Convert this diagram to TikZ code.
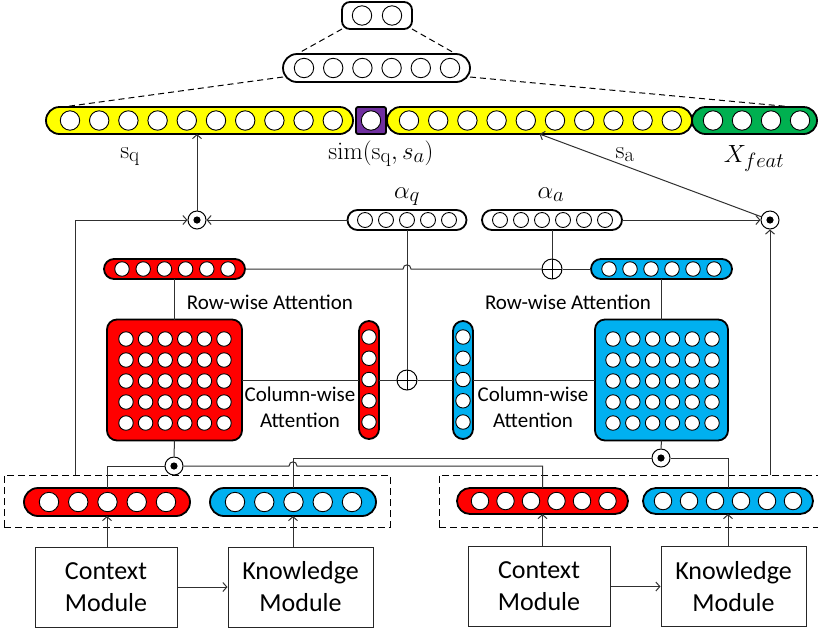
\documentclass[tikz,border=0pt]{standalone}
\usepackage[no-math]{fontspec}
\setmainfont{Carlito}
\usetikzlibrary{arrows.meta,calc}
\definecolor{cred}{HTML}{FF0000}
\definecolor{cblue}{HTML}{00B0F0}
\definecolor{cyel}{HTML}{FFFF00}
\definecolor{cgreen}{HTML}{00B050}
\definecolor{cpurp}{HTML}{7030A0}
\definecolor{cline}{HTML}{303030}
% name, x0, y, dx, n, diameter
\newcommand\circrow[6]{\foreach \i in {1,...,#5}{\node[cell,minimum size=#6pt] (#1-\i) at ({#2+(\i-1)*(#4)},#3) {};}}
% name, x, y0, dy, n, diameter
\newcommand\circcol[6]{\foreach \i in {1,...,#5}{\node[cell,minimum size=#6pt] (#1-\i) at (#2,{#3+(\i-1)*(#4)}) {};}}
% name, x0, y0, dx, dy, nx, ny, diameter
\newcommand\circgrid[8]{\foreach \i in {1,...,#6}{\foreach \j in {1,...,#7}{\node[cell,minimum size=#8pt] (#1-\i-\j) at ({#2+(\i-1)*(#4)},{#3+(\j-1)*(#5)}) {};}}}
\tikzset{
 vecbox/.style={rectangle, draw=black, line width=1.8pt, inner sep=0pt, outer sep=0pt},
 cell/.style={circle, draw=black, fill=white, line width=0.9pt, inner sep=0pt},
 conn/.style={draw=cline, line width=1pt},
 arr/.style={conn, -{Straight Barb[length=4pt,width=9pt]}},
 dashln/.style={draw=black, line width=1pt, dash pattern=on 6pt off 4pt},
 dashbox/.style={rectangle, draw=black, line width=1pt, dash pattern=on 7pt off 4pt, inner sep=0pt},
 modbox/.style={rectangle, draw=black!85, line width=1pt, inner sep=0pt, align=center, font=\fontsize{26}{32}\selectfont},
 odotn/.style={circle, draw=black, fill=white, line width=1pt, minimum size=18pt, inner sep=0pt,
   path picture={\fill[black] (path picture bounding box.center) circle (3.6pt);}},
 oplusn/.style={circle, draw=black, line width=1pt, minimum size=20pt, inner sep=0pt,
   path picture={\draw[line width=1pt] (path picture bounding box.north) -- (path picture bounding box.south)
     (path picture bounding box.west) -- (path picture bounding box.east);}},
 attlbl/.style={font=\fontsize{21}{26}\selectfont, align=center, inner sep=0pt},
 mathlbl/.style={font=\fontsize{29}{32}\selectfont, inner sep=0pt, anchor=base},
 alphalbl/.style={font=\fontsize{32}{34}\selectfont, inner sep=0pt, anchor=base},
}
\begin{document}
\begin{tikzpicture}[x=1pt,y=-1pt]
\useasboundingbox (0,0) rectangle (818,633);
% ---- top output vectors
\node[vecbox, rounded corners=8pt, minimum width=70pt, minimum height=27pt] (top) at (377,15.5) {};
\circrow{top}{362}{15.5}{30}{2}{19.4}
\node[vecbox, rounded corners=14pt, minimum width=187pt, minimum height=28pt] (hid) at (376.5,68) {};
\circrow{hid}{304}{68}{29.2}{6}{19.4}
% ---- concatenated vector
\node[vecbox, fill=cyel, rounded corners=13.5pt, minimum width=307pt, minimum height=27pt] (sq) at (199.5,120.5) {};
\circrow{sq}{70}{120.5}{29.2}{10}{19.4}
\node[vecbox, fill=cpurp, rounded corners=2pt, minimum width=30pt, minimum height=27pt] (sim) at (371,120.5) {};
\circrow{simc}{371}{120.5}{0}{1}{19.4}
\node[vecbox, fill=cyel, rounded corners=13.5pt, minimum width=305pt, minimum height=27pt] (sa) at (539.5,120.5) {};
\circrow{sa}{409}{120.5}{29.2}{10}{19.4}
\node[vecbox, fill=cgreen, rounded corners=13.5pt, minimum width=125pt, minimum height=27pt] (xf) at (754.5,120.5) {};
\circrow{xf}{713}{120.5}{29}{4}{19.4}
% labels
\node[mathlbl] (lsq) at (130,158) {$\mathrm{s}_\mathrm{q}$};
\node[mathlbl] (lsim) at (381,159) {$\mathrm{sim}(\mathrm{s}_\mathrm{q},s_a)$};
\node[mathlbl] (lsa) at (625,158) {$\mathrm{s}_\mathrm{a}$};
\node[mathlbl] (lxf) at (754,162) {$X_{feat}$};
\node[alphalbl] (laq) at (407,198) {$\alpha_q$};
\node[alphalbl] (laa) at (551,198) {$\alpha_a$};
% ---- attention vectors
\node[vecbox, rounded corners=10pt, minimum width=119pt, minimum height=20pt] (aq) at (407,220) {};
\circrow{aq}{365}{220}{21}{5}{15}
\node[vecbox, rounded corners=10pt, minimum width=140pt, minimum height=20pt] (aa) at (552,220) {};
\circrow{aa}{500}{220}{21}{6}{15}
\node[odotn] (oL) at (197,220) {};
\node[odotn] (oR) at (770,220) {};
% ---- row-wise
\node[vecbox, fill=cred, rounded corners=10pt, minimum width=141pt, minimum height=20pt] (rr) at (174.5,269) {};
\circrow{rr}{122}{269}{21.2}{6}{14.5}
\node[vecbox, fill=cblue, rounded corners=10pt, minimum width=141pt, minimum height=20pt] (rb) at (661.5,269) {};
\circrow{rb}{609}{269}{21}{6}{14.5}
\node[oplusn] (pR) at (552,269) {};
\node[attlbl] (lrr) at (270,302.5) {Row-wise Attention};
\node[attlbl] (lrb) at (568,302.5) {Row-wise Attention};
% ---- matrices
\node[vecbox, fill=cred, rounded corners=10pt, minimum width=135pt, minimum height=121pt] (mr) at (174.5,380) {};
\circgrid{mr}{126}{339}{19.6}{21}{6}{5}{14.5}
\node[vecbox, fill=cblue, rounded corners=10pt, minimum width=133pt, minimum height=121pt] (mb) at (661.5,380) {};
\circgrid{mb}{613}{339}{19.8}{21}{6}{5}{14.5}
% ---- column-wise
\node[vecbox, fill=cred, rounded corners=10pt, minimum width=20pt, minimum height=118pt] (cr) at (369,380) {};
\circcol{cr}{369}{337}{21.25}{5}{14.5}
\node[vecbox, fill=cblue, rounded corners=10pt, minimum width=20pt, minimum height=118pt] (cb) at (463,380) {};
\circcol{cb}{463}{337}{21.25}{5}{14.5}
\node[oplusn] (pC) at (407,380) {};
\node[attlbl] (lcr) at (300,407) {Column-wise\\Attention};
\node[attlbl] (lcb) at (533,407) {Column-wise\\Attention};
% ---- bottom
\node[odotn] (oBL) at (174,466) {};
\node[odotn] (oBR) at (661,458) {};
\node[dashbox, minimum width=386pt, minimum height=52pt] (dL) at (197,501) {};
\node[dashbox, minimum width=386pt, minimum height=52pt] (dR) at (632,501) {};
\node[vecbox, fill=cred, rounded corners=14pt, minimum width=166pt, minimum height=28pt] (bl1) at (107,502) {};
\circrow{bl1}{49}{502}{29.25}{5}{19.4}
\node[vecbox, fill=cblue, rounded corners=14pt, minimum width=166pt, minimum height=28pt] (bl2) at (293,502) {};
\circrow{bl2}{235}{502}{29.25}{5}{19.4}
\node[vecbox, fill=cred, rounded corners=13pt, minimum width=171pt, minimum height=26pt] (br1) at (542.5,501) {};
\circrow{br1}{480}{501}{25.5}{6}{17.5}
\node[vecbox, fill=cblue, rounded corners=13pt, minimum width=170pt, minimum height=26pt] (br2) at (728,501) {};
\circrow{br2}{663}{501}{26}{6}{17.5}
\node[modbox, minimum width=142pt, minimum height=80pt] (cmL) at (106,587) {Context\\Module};
\node[modbox, minimum width=145pt, minimum height=80pt] (kmL) at (300.5,587) {Knowledge\\Module};
\node[modbox, minimum width=142pt, minimum height=80pt] (cmR) at (539,586.5) {Context\\Module};
\node[modbox, minimum width=145pt, minimum height=80pt] (kmR) at (733.5,586.5) {Knowledge\\Module};
% ---- connectors
\draw[dashln] (top.south west) -- ([xshift=14pt]hid.north west);
\draw[dashln] (top.south east) -- ([xshift=-14pt]hid.north east);
\draw[dashln] ([yshift=-9pt]hid.west) -- ([xshift=17pt]sq.north west);
\draw[dashln] ([yshift=-9pt]hid.east) -- ([xshift=-24pt]xf.north east);
\coordinate (lk) at (75,475);
\coordinate (rk) at (770,475);
\draw[arr] (lk) |- (oL.west);
\draw[arr] (aq.west) -- (oL.east);
\draw[arr] (oL.north) -- (oL.north |- sq.south);
\draw[arr] (rk) -- (oR.south);
\draw[arr] (aa.east) -- (oR.west);
\draw[arr] (oR) -- (sa.south);
\coordinate (h1) at (aq.south |- rr.east);
\draw[conn] (rr.east) -- ($(h1)+(-4,0)$) .. controls +(0,-5.5) and +(0,-5.5) .. ($(h1)+(4,0)$) -- (pR.west);
\draw[conn] (pR.east) -- (rb.west);
\draw[conn] (aa.south) -- (pR.north);
\draw[conn] (aq.south) -- (pC.north);
\draw[conn] (rr.south) -- (mr.north);
\draw[conn] (rb.south) -- (mb.north);
\draw[conn] (mr.east) -- (cr.west);
\draw[conn] (cr.east) -- (pC.west);
\draw[conn] (pC.east) -- (cb.west);
\draw[conn] (cb.east) -- (mb.west);
\draw[conn] (mr.south) -- (oBL.north);
\draw[conn] (mb.south) -- (oBR.north);
\draw[conn] (oBL.west) -| (bl1.north);
\coordinate (h2) at (bl2.north |- oBL.east);
\draw[conn] (oBL.east) -- ($(h2)+(-4,0)$) .. controls +(0,-5.5) and +(0,-5.5) .. ($(h2)+(4,0)$) -| (br1.north);
\draw[conn] (bl2.north) |- (oBR.west);
\draw[conn] (oBR.east) -| (br2.north);
\draw[arr] (cmL.north -| bl1.south) -- (bl1.south);
\draw[arr] (kmL.north -| bl2.south) -- (bl2.south);
\draw[arr] (cmL.east) -- (kmL.west);
\draw[arr] (cmR.north -| br1.south) -- (br1.south);
\draw[arr] (kmR.north -| br2.south) -- (br2.south);
\draw[arr] (cmR.east) -- (kmR.west);
\end{tikzpicture}
\end{document}
